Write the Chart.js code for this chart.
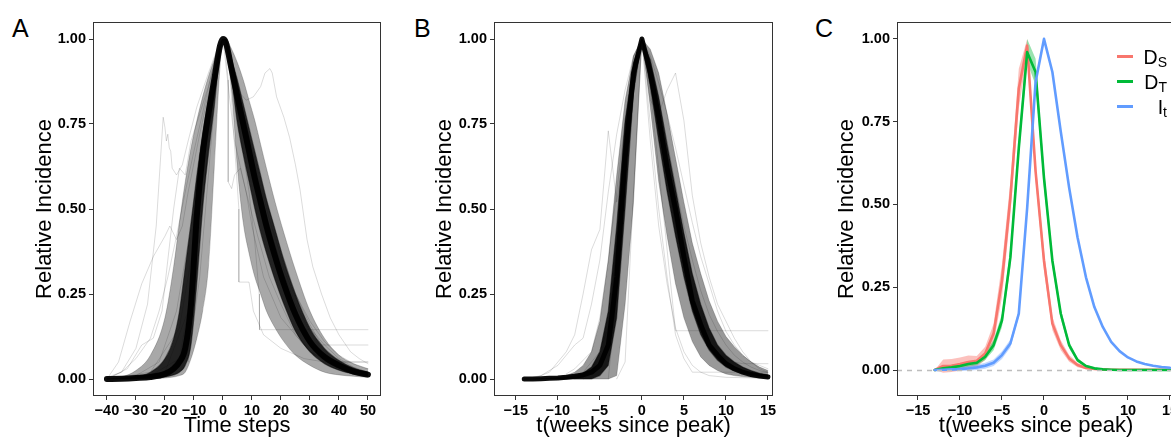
<!DOCTYPE html>
<html>
<head>
<meta charset="utf-8">
<script src="https://cdn.jsdelivr.net/npm/chart.js@4.4.1/dist/chart.umd.min.js"></script>
<style>
html, body { margin: 0; padding: 0; background: #fff; }
body { width: 1171px; height: 439px; overflow: hidden; position: relative; font-family: "Liberation Sans", Arial, sans-serif; }
canvas { position: absolute; top: 0; }
.tag { position: absolute; top: 14px; font-size: 25px; line-height: 28px; color: #000; }
</style>
</head>
<body>
<div class="tag" style="left:12px">A</div>
<div class="tag" style="left:414px">B</div>
<div class="tag" style="left:815px">C</div>
<canvas id="chartA" width="400" height="439" style="left:0"></canvas>
<canvas id="chartB" width="400" height="439" style="left:400px"></canvas>
<canvas id="chartC" width="400" height="439" style="left:800px"></canvas>
<script>
const FONT = '"Liberation Sans", Arial, sans-serif';

// ---- Panel A: curves aligned on peak, time steps ----
const stepsA = [-40,-35,-30,-25,-20,-17,-15,-13,-11,-9,-7,-5,-3,-1,0,1,3,5,7,9,11,13,15,18,21,25,30,35,40,45,50];
const coreA = [0,0.001,0.003,0.006,0.015,0.03,0.05,0.09,0.22,0.48,0.66,0.78,0.88,0.98,1.0,0.99,0.91,0.83,0.75,0.67,0.59,0.52,0.45,0.36,0.28,0.19,0.11,0.065,0.04,0.022,0.013];
const wideA = [0,0.006,0.025,0.07,0.18,0.33,0.46,0.58,0.68,0.76,0.83,0.89,0.94,0.99,1.0,1.0,0.97,0.93,0.88,0.82,0.76,0.69,0.62,0.52,0.43,0.32,0.2,0.12,0.07,0.045,0.03];
const midWideA = [0,0.002,0.008,0.02,0.06,0.12,0.2,0.33,0.46,0.6,0.72,0.82,0.9,0.98,1.0,1.0,0.94,0.88,0.81,0.74,0.67,0.6,0.53,0.44,0.35,0.25,0.15,0.09,0.055,0.033,0.02];
const midNarrowA = [0,0,0.001,0.002,0.006,0.012,0.02,0.04,0.1,0.28,0.5,0.66,0.8,0.96,1.0,0.98,0.88,0.75,0.66,0.58,0.5,0.43,0.37,0.29,0.22,0.14,0.08,0.045,0.026,0.015,0.009];
const narrowA = [0,0,0,0.001,0.003,0.006,0.01,0.02,0.06,0.12,0.2,0.33,0.62,0.92,1.0,0.98,0.85,0.62,0.46,0.37,0.3,0.25,0.2,0.15,0.11,0.07,0.04,0.02,0.012,0.008,0.005];
const outliersA = [
  [[-40,0],[-35,0.02],[-30,0.09],[-26,0.22],[-23,0.45],[-21.5,0.65],[-20.6,0.77],[-20,0.74],[-19.5,0.7],[-19,0.72],[-18.5,0.68],[-18,0.67],[-17.5,0.62],[-16,0.6],[-14,0.63],[-12,0.7],[-9,0.8],[-5,0.9],[-2,0.97],[0,1],[3,0.92],[6,0.82],[10,0.66],[15,0.48],[20,0.33],[25,0.22],[30,0.14],[35,0.09],[40,0.05],[45,0.03],[50,0.02]],
  [[-40,0],[-30,0.01],[-22,0.05],[-16,0.2],[-12,0.4],[-8,0.65],[-4,0.85],[0,1],[3,0.9],[6,0.84],[8,0.82],[10.5,0.83],[13,0.86],[14.5,0.9],[16.2,0.913],[17,0.9],[18.5,0.83],[21,0.77],[23,0.71],[25,0.63],[26.6,0.556],[29,0.41],[31,0.33],[34,0.25],[37,0.18],[40,0.13],[44,0.08],[47,0.06],[50,0.045]],
  [[-40,0],[-36,0.05],[-32,0.17],[-28,0.28],[-24,0.36],[-20,0.42],[-18.3,0.45],[-16,0.41],[-14,0.45],[-12,0.55],[-8,0.72],[-4,0.88],[0,1],[5,0.8],[10,0.62],[15,0.47],[20,0.34],[25,0.24],[30,0.15],[35,0.1],[40,0.06],[45,0.035],[50,0.02]],
  [[-40,0],[-25,0.01],[-15,0.06],[-10,0.3],[-6,0.6],[-3,0.85],[0,1],[3,0.92],[6,0.72],[9,0.55],[11,0.4],[12.5,0.25],[12.6,0.145],[50,0.145]],
  [[-40,0],[-20,0.01],[-12,0.1],[-8,0.4],[-5,0.7],[-2,0.92],[0,1],[2,0.95],[3.5,0.75],[5.5,0.5],[5.5,0.285],[9,0.285],[10.5,0.2],[14,0.13],[20,0.09],[28,0.06],[35,0.05],[50,0.05]],
  [[-40,0],[-25,0.02],[-15,0.15],[-10,0.4],[-5,0.75],[0,1],[5,0.85],[10,0.68],[15,0.52],[20,0.38],[25,0.25],[30,0.16],[34,0.1],[50,0.1]],
  [[-40,0.005],[-35,0.02],[-30,0.06],[-25,0.12],[-22,0.2],[-19,0.3],[-16,0.42],[-13,0.55],[-10,0.67],[-6,0.82],[-3,0.93],[0,1],[4,0.88],[8,0.74],[12,0.6],[16,0.47],[20,0.36],[25,0.25],[30,0.17],[35,0.11],[40,0.07],[45,0.045],[50,0.03]],
  [[-40,0],[-33,0.03],[-28,0.1],[-24,0.12],[-21,0.2],[-19,0.35],[-17,0.5],[-15,0.62],[-13,0.6],[-11,0.7],[-8,0.78],[-5,0.86],[-2,0.96],[0,1],[4,0.7],[8,0.55],[12,0.42],[16,0.3],[20,0.22],[25,0.13],[30,0.08],[40,0.03],[50,0.015]],
  [[-40,0],[-20,0.02],[-12,0.2],[-8,0.5],[-4,0.8],[0,1],[4,0.86],[8,0.7],[12,0.55],[16,0.42],[20,0.3],[25,0.18],[30,0.1],[34,0.065],[38,0.05],[50,0.05]],
  [[-12,0.05],[-8,0.3],[-5,0.6],[-2,0.9],[0,1],[1,0.95],[1.8,0.88],[1.8,0.58],[3,0.56],[4,0.6],[6,0.62],[8,0.55],[10,0.45],[14,0.3],[20,0.18],[30,0.08],[40,0.04],[50,0.02]]
];
const ticksA = [-40,-30,-20,-10,0,10,20,30,40,50];

// ---- Panel B: weeks since peak ----
const weeksB = [-14,-13,-12,-11,-10,-9,-8,-7,-6,-5,-4,-3,-2,-1,0,1,2,3,4,5,6,7,8,9,10,11,12,13,14,15];
const coreB = [0,0,0.001,0.002,0.003,0.005,0.008,0.012,0.02,0.04,0.1,0.3,0.65,0.9,1.0,0.9,0.77,0.62,0.5,0.36,0.23,0.16,0.1,0.07,0.045,0.03,0.02,0.013,0.009,0.006];
const wideB = [0,0,0.002,0.004,0.006,0.01,0.02,0.04,0.08,0.17,0.35,0.6,0.82,0.95,1,0.97,0.9,0.78,0.65,0.52,0.4,0.31,0.23,0.17,0.125,0.095,0.07,0.05,0.035,0.025];
const midWideB = [0,0,0.001,0.002,0.004,0.006,0.01,0.018,0.035,0.08,0.2,0.45,0.76,0.93,1,0.94,0.83,0.69,0.56,0.43,0.31,0.22,0.15,0.1,0.07,0.05,0.035,0.025,0.017,0.012];
const midNarrowB = [0,0,0,0,0,0,0,0,0,0.01,0.04,0.18,0.5,0.84,1,0.86,0.7,0.55,0.42,0.3,0.2,0.13,0.085,0.055,0.035,0.024,0.016,0.011,0.008,0.005];
const narrowB = [0,0,0,0,0,0,0,0,0,0,0,0.01,0.22,0.52,1,0.8,0.58,0.42,0.28,0.18,0.11,0.065,0.04,0.025,0.015,0.01,0.007,0.005,0.003,0.002];
const outliersB = [
  [[-13,0],[-11,0.02],[-9,0.08],[-8,0.13],[-7,0.25],[-6,0.38],[-5,0.44],[-4,0.73],[-3,0.52],[-2,0.7],[-1,0.9],[0,1],[1,0.88],[2,0.74],[3,0.6],[4,0.46],[5,0.33],[6,0.23],[7,0.15],[8,0.1],[9,0.07],[10,0.05],[11,0.035],[12,0.025],[13,0.02],[14,0.015],[15,0.01]],
  [[-9,0],[-7,0.02],[-5,0.08],[-4,0.2],[-3,0.45],[-2,0.75],[-1,0.92],[0,1],[1,0.82],[2,0.78],[3,0.85],[4,0.9],[5,0.76],[6,0.54],[7,0.4],[8,0.3],[9,0.22],[10,0.17],[11,0.12],[12,0.08],[13,0.05],[14,0.03],[15,0.02]],
  [[-7,0],[-5,0.03],[-4,0.12],[-3,0.4],[-2,0.75],[-1,0.95],[0,1],[1,0.85],[2,0.62],[3,0.38],[4,0.142],[15,0.142]],
  [[-8,0],[-6,0.02],[-4,0.15],[-3,0.4],[-2,0.72],[-1,0.93],[0,1],[1,0.9],[2,0.75],[3,0.6],[4,0.45],[5,0.33],[6,0.23],[7,0.16],[8,0.11],[9,0.08],[10,0.06],[11,0.05],[12,0.045],[15,0.045]],
  [[-14,0],[-12,0.01],[-10,0.04],[-8,0.1],[-7,0.12],[-6,0.22],[-5,0.35],[-4,0.55],[-3,0.72],[-2,0.85],[-1,0.95],[0,1],[1,0.93],[2,0.82],[3,0.7],[4,0.57],[5,0.45],[6,0.35],[7,0.26],[8,0.19],[9,0.14],[10,0.1],[11,0.07],[12,0.05],[13,0.035],[14,0.025],[15,0.018]],
  [[-4,0],[-3,0.25],[-2,0.6],[-1,0.9],[0,1],[1,0.75],[2,0.5],[3,0.3],[4,0.13],[5,0.06],[6,0.02],[15,0.02]],
  [[-10,0],[-8,0.03],[-6,0.08],[-5,0.18],[-4,0.35],[-3,0.55],[-2,0.75],[-1,0.9],[0,1],[1,0.95],[2,0.87],[3,0.78],[4,0.68],[5,0.57],[6,0.46],[7,0.36],[8,0.28],[9,0.2],[10,0.14],[11,0.1],[12,0.07],[13,0.05],[14,0.04],[15,0.03]],
  [[-3,0],[-2,0.05],[-1,0.55],[0,1],[1,0.7],[2,0.45],[3,0.28],[4,0.15],[5,0.08],[6,0.04],[7,0.02],[8,0.01],[10,0.005],[15,0.002]]
];
const ticksWeeks = [-15,-10,-5,0,5,10,15];

// ---- Panel C: D_S, D_T, I_t means with ribbons ----
const weeksC = [-13,-12,-11,-10,-9,-8,-7,-6,-5,-4,-3,-2,-1,0,1,2,3,4,5,6,7,8,9,10,11,12,13,14,15];
const dsMean = [0,0.012,0.013,0.018,0.024,0.028,0.05,0.11,0.27,0.52,0.85,0.98,0.6,0.33,0.14,0.075,0.035,0.015,0.006,0.003,0.002,0.001,0.001,0.001,0.001,0.001,0.001,0.001,0.001];
const dsLow = [0,-0.008,-0.006,-0.002,0.004,0.01,0.03,0.08,0.22,0.47,0.79,0.95,0.57,0.3,0.12,0.06,0.025,0.008,0.002,0,0,0,0,0,0,0,0,0,0];
const dsHigh = [0,0.032,0.033,0.038,0.044,0.042,0.07,0.14,0.32,0.57,0.91,1.0,0.63,0.36,0.16,0.09,0.045,0.022,0.01,0.005,0.003,0.002,0.002,0.002,0.002,0.002,0.002,0.002,0.002];
const dtMean = [0,0.005,0.008,0.012,0.018,0.022,0.04,0.075,0.15,0.34,0.67,0.96,0.9,0.58,0.33,0.17,0.075,0.03,0.012,0.005,0.002,0.001,0,0,0,0,0,0,0];
const dtLow = [0,-0.003,0,0.004,0.01,0.014,0.03,0.06,0.13,0.31,0.64,0.93,0.86,0.55,0.31,0.155,0.065,0.024,0.008,0.002,0,0,0,0,0,0,0,0,0];
const dtHigh = [0,0.013,0.016,0.02,0.026,0.03,0.05,0.09,0.17,0.37,0.7,1.0,0.94,0.61,0.35,0.185,0.085,0.036,0.016,0.008,0.004,0.002,0.001,0.001,0,0,0,0,0];
const itMean = [0,0.001,0.002,0.003,0.005,0.008,0.013,0.022,0.045,0.08,0.17,0.49,0.87,1.0,0.9,0.72,0.55,0.4,0.28,0.19,0.13,0.085,0.057,0.038,0.026,0.018,0.013,0.009,0.007];
const itLow = [0,-0.003,-0.003,-0.003,-0.002,0,0.004,0.012,0.033,0.068,0.16,0.48,0.865,0.998,0.895,0.715,0.545,0.395,0.276,0.186,0.127,0.082,0.055,0.036,0.024,0.016,0.011,0.007,0.005];
const itHigh = [0,0.005,0.007,0.009,0.012,0.016,0.022,0.032,0.057,0.092,0.18,0.5,0.875,1.0,0.905,0.725,0.555,0.405,0.284,0.194,0.133,0.088,0.059,0.04,0.028,0.02,0.015,0.011,0.009];
const seriesC = ['D_S', 'D_T', 'I_t'];
const legendC = [['D', 'S'], ['D', 'T'], ['I', 't']];
const colorsC = ['#F8766D', '#00BA38', '#619CFF'];
const ribbonsC = ['rgba(248,118,109,0.45)', 'rgba(0,186,56,0.4)', 'rgba(97,156,255,0.4)'];

const ticksY = [0, 0.25, 0.5, 0.75, 1];
const zeroRef = 0;

const pts = (xs, ys) => xs.map((x, i) => ({x: x, y: ys[i]}));
const pairs = arr => arr.map(p => ({x: p[0], y: p[1]}));
const minus = v => (v < 0 ? '\u2212' + Math.abs(v) : String(v));

// panel border like ggplot's theme_bw frame
const frame = {
  id: 'frame',
  afterDraw(chart) {
    const a = chart.chartArea, ctx = chart.ctx;
    ctx.save();
    ctx.strokeStyle = '#333';
    ctx.lineWidth = 1;
    ctx.strokeRect(a.left + 0.5, a.top + 0.5, a.right - a.left - 1, a.bottom - a.top - 1);
    ctx.restore();
  }
};

function axisOptions(p) {
  const tickFont = {family: FONT, size: 14.5, weight: 'bold'};
  const titleFont = {family: FONT, size: 22};
  const grid = {drawOnChartArea: false, drawTicks: true, tickLength: 4, tickColor: '#333', tickWidth: 1};
  return {
    responsive: false,
    animation: false,
    events: [],
    layout: {padding: {top: 22, right: p.padRight, left: 0, bottom: 0}},
    plugins: {legend: {display: false}, tooltip: {enabled: false}},
    elements: {point: {radius: 0}, line: {borderJoinStyle: 'round', borderCapStyle: 'round'}},
    scales: {
      x: {
        type: 'linear', min: p.xmin, max: p.xmax,
        afterBuildTicks: s => { s.ticks = p.xticks.map(v => ({value: v})); },
        afterFit: s => { s.height = 43; },
        border: {display: false},
        grid: grid,
        ticks: {font: tickFont, color: '#000', padding: 2, maxRotation: 0, autoSkip: false, callback: minus},
        title: {display: true, text: p.xtitle, font: titleFont, color: '#000', padding: {top: 0, bottom: 0}}
      },
      y: {
        type: 'linear', min: p.ymin, max: p.ymax,
        afterBuildTicks: s => { s.ticks = ticksY.map(v => ({value: v})); },
        afterFit: s => { s.width = p.axisW; },
        border: {display: false},
        grid: grid,
        ticks: {font: tickFont, color: '#000', padding: 3, callback: v => v.toFixed(2)},
        title: {display: true, text: 'Relative Incidence', font: titleFont, color: '#000', padding: {top: p.titlePad, bottom: 0}}
      }
    }
  };
}

// dense bundle of curves: two shaded bands, a dark core and faint outliers
function bundle(xs, wide, midW, midN, narrow, core, outliers, smooth, shade) {
  const mode = smooth ? 'monotone' : 'default';
  const sets = [
    {data: pts(xs, wide), borderColor: 'rgba(0,0,0,0.2)', borderWidth: 1, backgroundColor: 'rgba(0,0,0,' + shade[0] + ')', fill: '+1', cubicInterpolationMode: mode},
    {data: pts(xs, narrow), borderColor: 'rgba(0,0,0,0.2)', borderWidth: 1, fill: false, cubicInterpolationMode: mode},
    {data: pts(xs, midW), borderColor: 'rgba(0,0,0,0.4)', borderWidth: 1.2, backgroundColor: 'rgba(0,0,0,' + shade[1] + ')', fill: '+1', cubicInterpolationMode: mode},
    {data: pts(xs, midN), borderColor: 'rgba(0,0,0,0.4)', borderWidth: 1.2, fill: false, cubicInterpolationMode: mode},
    {data: pts(xs, core), borderColor: 'rgba(0,0,0,0.95)', borderWidth: shade[2], fill: false, cubicInterpolationMode: mode}
  ];
  outliers.forEach(o => sets.push({data: pairs(o), borderColor: 'rgba(0,0,0,0.14)', borderWidth: 1, fill: false, tension: 0}));
  return sets;
}

new Chart(document.getElementById('chartA'), {
  type: 'line',
  data: {datasets: bundle(stepsA, wideA, midWideA, midNarrowA, narrowA, coreA, outliersA, true, [0.34, 0.8, 6])},
  options: axisOptions({xmin: -44.8, xmax: 54.5, ymin: -0.05, ymax: 1.05, xticks: ticksA, xtitle: 'Time steps', axisW: 93, padRight: 19, titlePad: 32}),
  plugins: [frame]
});

new Chart(document.getElementById('chartB'), {
  type: 'line',
  data: {datasets: bundle(weeksB, wideB, midWideB, midNarrowB, narrowB, coreB, outliersB, false, [0.4, 0.86, 5])},
  options: axisOptions({xmin: -17.6, xmax: 15.6, ymin: -0.05, ymax: 1.05, xticks: ticksWeeks, xtitle: 't(weeks since peak)', axisW: 94, padRight: 27, titlePad: 32}),
  plugins: [frame]
});

// dashed reference at zero, drawn over the curves
const zeroLine = {
  id: 'zeroLine',
  afterDatasetsDraw(chart) {
    const a = chart.chartArea, ctx = chart.ctx;
    const y = Math.round(chart.scales.y.getPixelForValue(zeroRef)) + 0.5;
    ctx.save();
    ctx.strokeStyle = '#BDBDBD';
    ctx.lineWidth = 1.5;
    ctx.setLineDash([5, 5]);
    ctx.beginPath();
    ctx.moveTo(a.left, y);
    ctx.lineTo(a.right, y);
    ctx.stroke();
    ctx.restore();
  }
};

const legendPlugin = {
  id: 'legendC',
  afterDraw(chart) {
    const ctx = chart.ctx;
    ctx.save();
    legendC.forEach((lab, i) => {
      const y = 56.5 + i * 25;
      ctx.strokeStyle = colorsC[i];
      ctx.lineWidth = 3;
      ctx.beginPath();
      ctx.moveTo(317, y);
      ctx.lineTo(333, y);
      ctx.stroke();
      ctx.fillStyle = '#000';
      ctx.textBaseline = 'alphabetic';
      ctx.font = '14px ' + FONT;
      const wSub = ctx.measureText(lab[1]).width;
      ctx.font = '19.5px ' + FONT;
      const wMain = ctx.measureText(lab[0]).width;
      const x0 = 367 - wSub - wMain;
      ctx.fillText(lab[0], x0, y + 7);
      ctx.font = '14px ' + FONT;
      ctx.fillText(lab[1], x0 + wMain, y + 10.5);
    });
    ctx.restore();
  }
};

const cSets = [];
[[dsLow, dsHigh], [dtLow, dtHigh], [itLow, itHigh]].forEach((r, i) => {
  cSets.push({label: seriesC[i] + ' low', data: pts(weeksC, r[0]), borderColor: 'transparent', borderWidth: 0, backgroundColor: ribbonsC[i], fill: '+1', order: 9 - i});
  cSets.push({label: seriesC[i] + ' high', data: pts(weeksC, r[1]), borderColor: 'transparent', borderWidth: 0, fill: false, order: 9 - i});
});
[dsMean, dtMean, itMean].forEach((m, i) => {
  cSets.push({label: seriesC[i], data: pts(weeksC, m), borderColor: colorsC[i], borderWidth: 2.6, fill: false, order: 6 - i});
});

new Chart(document.getElementById('chartC'), {
  type: 'line',
  data: {datasets: cSets},
  options: axisOptions({xmin: -17.5, xmax: 15.6, ymin: -0.0785, ymax: 1.051, xticks: ticksWeeks, xtitle: 't(weeks since peak)', axisW: 97, padRight: 25, titlePad: 34}),
  plugins: [frame, zeroLine, legendPlugin]
});
</script>
</body>
</html>
